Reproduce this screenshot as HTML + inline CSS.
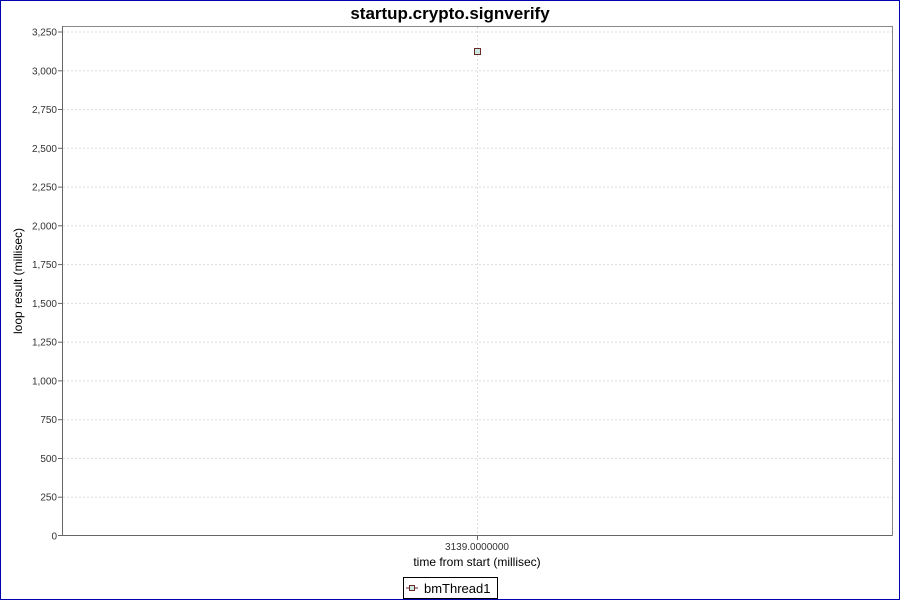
<!DOCTYPE html><html><head><style>body{margin:0}svg{display:block}</style></head><body>
<svg width="900" height="600" xmlns="http://www.w3.org/2000/svg" font-family="Liberation Sans, sans-serif">
<rect x="0.5" y="0.5" width="899" height="599" fill="#fff" stroke="#0000b0"/>
<text x="450" y="19" text-anchor="middle" font-size="17" font-weight="bold">startup.crypto.signverify</text>
<rect x="62.5" y="26.5" width="830" height="509" fill="#fff" stroke="#888"/>
<g stroke="#ddd" stroke-dasharray="2,2">
<line x1="63" x2="892" y1="32" y2="32"/><line x1="63" x2="892" y1="70.8" y2="70.8"/><line x1="63" x2="892" y1="109.5" y2="109.5"/><line x1="63" x2="892" y1="148.3" y2="148.3"/><line x1="63" x2="892" y1="187.1" y2="187.1"/><line x1="63" x2="892" y1="225.8" y2="225.8"/><line x1="63" x2="892" y1="264.6" y2="264.6"/><line x1="63" x2="892" y1="303.4" y2="303.4"/><line x1="63" x2="892" y1="342.2" y2="342.2"/><line x1="63" x2="892" y1="380.9" y2="380.9"/><line x1="63" x2="892" y1="419.7" y2="419.7"/><line x1="63" x2="892" y1="458.5" y2="458.5"/><line x1="63" x2="892" y1="497.2" y2="497.2"/>
<line x1="477.5" x2="477.5" y1="27" y2="535"/>
</g>
<line x1="62.5" x2="892" y1="535.5" y2="535.5" stroke="#666"/>
<line x1="62.5" x2="62.5" y1="26" y2="536" stroke="#666"/>
<g font-size="10" text-anchor="end" fill="#333">
<text x="57" y="35.5">3,250</text><text x="57" y="74.3">3,000</text><text x="57" y="113">2,750</text><text x="57" y="151.8">2,500</text><text x="57" y="190.6">2,250</text><text x="57" y="229.3">2,000</text><text x="57" y="268.1">1,750</text><text x="57" y="306.9">1,500</text><text x="57" y="345.7">1,250</text><text x="57" y="384.4">1,000</text><text x="57" y="423.2">750</text><text x="57" y="462">500</text><text x="57" y="500.7">250</text><text x="57" y="539.5">0</text>
</g>
<g stroke="#666"><line x1="58" x2="62" y1="32" y2="32"/><line x1="58" x2="62" y1="70.8" y2="70.8"/><line x1="58" x2="62" y1="109.5" y2="109.5"/><line x1="58" x2="62" y1="148.3" y2="148.3"/><line x1="58" x2="62" y1="187.1" y2="187.1"/><line x1="58" x2="62" y1="225.8" y2="225.8"/><line x1="58" x2="62" y1="264.6" y2="264.6"/><line x1="58" x2="62" y1="303.4" y2="303.4"/><line x1="58" x2="62" y1="342.2" y2="342.2"/><line x1="58" x2="62" y1="380.9" y2="380.9"/><line x1="58" x2="62" y1="419.7" y2="419.7"/><line x1="58" x2="62" y1="458.5" y2="458.5"/><line x1="58" x2="62" y1="497.2" y2="497.2"/><line x1="58" x2="62" y1="535.5" y2="535.5"/><line x1="477.5" x2="477.5" y1="536" y2="540"/></g>
<text x="477" y="550" text-anchor="middle" font-size="10" fill="#333">3139.0000000</text>
<text x="477" y="566" text-anchor="middle" font-size="12">time from start (millisec)</text>
<text transform="translate(22,281) rotate(-90)" text-anchor="middle" font-size="12">loop result (millisec)</text>
<rect x="474.5" y="48.5" width="6" height="6" fill="#cce8e0" stroke="#6b2a2a"/>
<rect x="403.5" y="577.5" width="94" height="21" fill="#fff" stroke="#000"/>
<line x1="406" x2="418" y1="588" y2="588" stroke="#6b2a2a"/>
<rect x="409.5" y="585.5" width="5" height="5" fill="#cce8e0" stroke="#6b2a2a"/>
<text x="424" y="593" font-size="13">bmThread1</text>
</svg></body></html>
